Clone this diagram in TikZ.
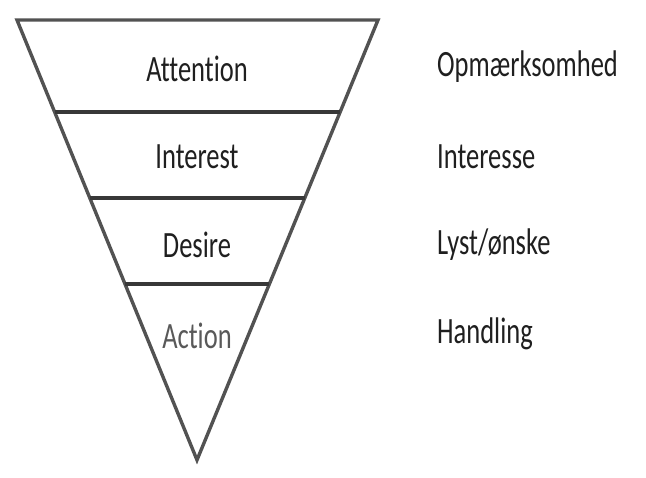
\documentclass[tikz,border=0pt]{standalone}
\usepackage{fontspec}
\setmainfont[Ligatures=NoCommon]{Carlito}
\usetikzlibrary{calc}
\tikzset{
  funnel/.style={draw=black!68, line width=3.4pt, line join=miter},
  band/.style={draw=black!78, line width=3.2pt},
  lbl/.style={text=black!88, inner sep=0pt, font=\fontsize{26.5}{30}\selectfont},
  rlbl/.style={lbl, anchor=west},
}
\newcommand{\tall}[1]{\scalebox{1}[1.4]{#1}}
\begin{document}
\begin{tikzpicture}[x=1pt,y=-1pt]
\useasboundingbox (0,0) rectangle (646,478);
\coordinate (TL) at (17,20);
\coordinate (TR) at (378,20);
\coordinate (AP) at (197,460);
\draw[funnel] (TL) -- (TR) -- (AP) -- cycle;
\draw[band] ($(TL)!0.209!(AP)$) coordinate (l1) -- ($(TR)!0.209!(AP)$) coordinate (r1);
\draw[band] ($(TL)!0.4045!(AP)$) coordinate (l2) -- ($(TR)!0.4045!(AP)$) coordinate (r2);
\draw[band] ($(TL)!0.6!(AP)$) coordinate (l3) -- ($(TR)!0.6!(AP)$) coordinate (r3);
\node[lbl] (att) at (197,69) {\tall{Attention}};
\node[lbl] (int) at (197,157) {\tall{Interest}};
\node[lbl] (des) at (197,245) {\tall{Desire}};
\node[lbl, text=black!65] (act) at (197,336) {\tall{Action}};
\node[rlbl] (opm) at (437,67) {\tall{Opmærksomhed}};
\node[rlbl] (inte) at (437,157) {\tall{Interesse}};
\node[rlbl] (lyst) at (437,245) {\tall{Lyst/ønske}};
\node[rlbl] (hand) at (437,334) {\tall{Handling}};
\end{tikzpicture}
\end{document}
